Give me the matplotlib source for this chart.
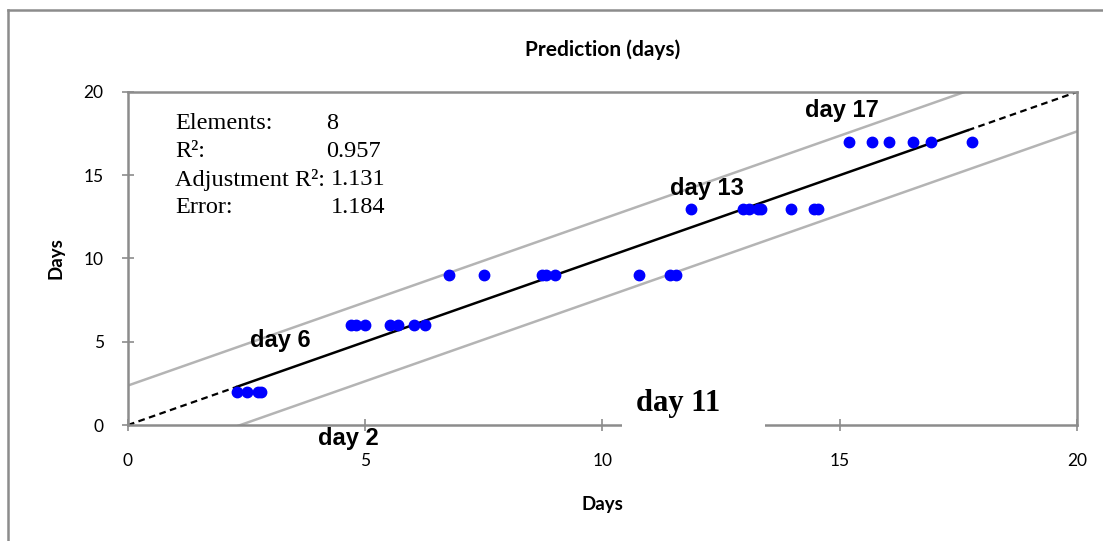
import numpy as np
import matplotlib.pyplot as plt
from matplotlib.lines import Line2D
from matplotlib.patches import Rectangle

plt.rcParams['font.family'] = ['Lato', 'DejaVu Sans']

# observed vs predicted days
obs_x = [2.3, 2.5, 2.75, 2.8,
         4.7, 4.8, 5.0, 5.52, 5.69, 6.03, 6.26,
         6.77, 7.51, 8.72, 8.82, 9.0, 10.76, 11.42, 11.56,
         11.86, 12.97, 13.09, 13.28, 13.35, 13.97, 14.45, 14.55,
         15.2, 15.69, 16.04, 16.54, 16.92, 17.78]
obs_y = [2, 2, 2, 2,
         6, 6, 6, 6, 6, 6, 6,
         9, 9, 9, 9, 9, 9, 9, 9,
         13, 13, 13, 13, 13, 13, 13, 13,
         17, 17, 17, 17, 17, 17]

fit_x = [0, 2.3, 17.7, 20]
band = 2.37

stat_names = ['Elements:', 'R²:', 'Adjustment R²:', 'Error:']
stat_vals = ['8', '0.957', '1.131', '1.184']
stat_val_x = [0.209, 0.209, 0.214, 0.214]

day_labels = ['day 6', 'day 2', 'day 13', 'day 17']
day_pos = [(2.58, 5.1), (4.0, -0.8), (11.42, 14.2), (14.27, 18.9)]

fig = plt.figure(figsize=(11.03, 5.41), dpi=100)
ax = fig.add_axes([0.116, 0.2144, 0.8604, 0.6156])

gray = '#8c8c8c'
bx = np.array([0, 20])
ax.plot(bx, bx + band, color='#b4b4b4', lw=1.8, zorder=1)
ax.plot(bx, bx - band, color='#b4b4b4', lw=1.8, zorder=1)
ax.plot(fit_x[:2], fit_x[:2], color='k', lw=1.6, ls=(0, (3, 2)), zorder=2)
ax.plot(fit_x[1:3], fit_x[1:3], color='k', lw=1.8, zorder=2)
ax.plot(fit_x[2:], fit_x[2:], color='k', lw=1.6, ls=(0, (3, 2)), zorder=2)
ax.plot(obs_x, obs_y, 'o', color='#0000ff', ms=7.5, mec='#0000ff', zorder=3, clip_on=False)

ax.set_xlim(0, 20)
ax.set_ylim(0, 20)
ax.set_xticks([0, 5, 10, 15, 20])
ax.set_yticks([0, 5, 10, 15, 20])
for s in ['left', 'bottom', 'top', 'right']:
    ax.spines[s].set_color(gray)
    ax.spines[s].set_linewidth(1.8)
ax.tick_params(direction='inout', length=9, width=1.2, color=gray,
               labelsize=12.5)
ax.tick_params(axis='x', pad=16)
ax.tick_params(axis='y', pad=13)

ax.set_xlabel('Days', fontsize=13.5, fontweight='bold', labelpad=19)
ax.set_ylabel('Days', fontsize=13.5, fontweight='bold', labelpad=14)
ax.set_title('Prediction (days)', fontsize=15, fontweight='bold', pad=26)

# stats box
for i in range(4):
    yy = 0.904 - i * 0.084
    ax.text(0.050, yy, stat_names[i], transform=ax.transAxes, fontsize=17.5,
            family='Liberation Serif', va='center')
    ax.text(stat_val_x[i], yy, stat_vals[i], transform=ax.transAxes, fontsize=17.5,
            family='Liberation Serif', va='center')

for lab, (lx, ly) in zip(day_labels, day_pos):
    ax.text(lx, ly, lab, fontsize=17, fontweight='bold',
            family='Liberation Sans', va='center', clip_on=False)

ax.add_patch(Rectangle((10.41, -0.6), 3.01, 3.0, facecolor='white', edgecolor='none',
                       zorder=4, clip_on=False))
ax.text(11.6, 1.32, 'day 11', fontsize=22, fontweight='bold', family='Liberation Serif',
        ha='center', va='center', zorder=5, clip_on=False)

# outer frame
fig.add_artist(Line2D([8 / 1103, 8 / 1103], [0, 1 - 10 / 541], color=gray, lw=1.8))
fig.add_artist(Line2D([8 / 1103, 1], [1 - 10 / 541, 1 - 10 / 541], color=gray, lw=1.8))

plt.savefig('out.png')
